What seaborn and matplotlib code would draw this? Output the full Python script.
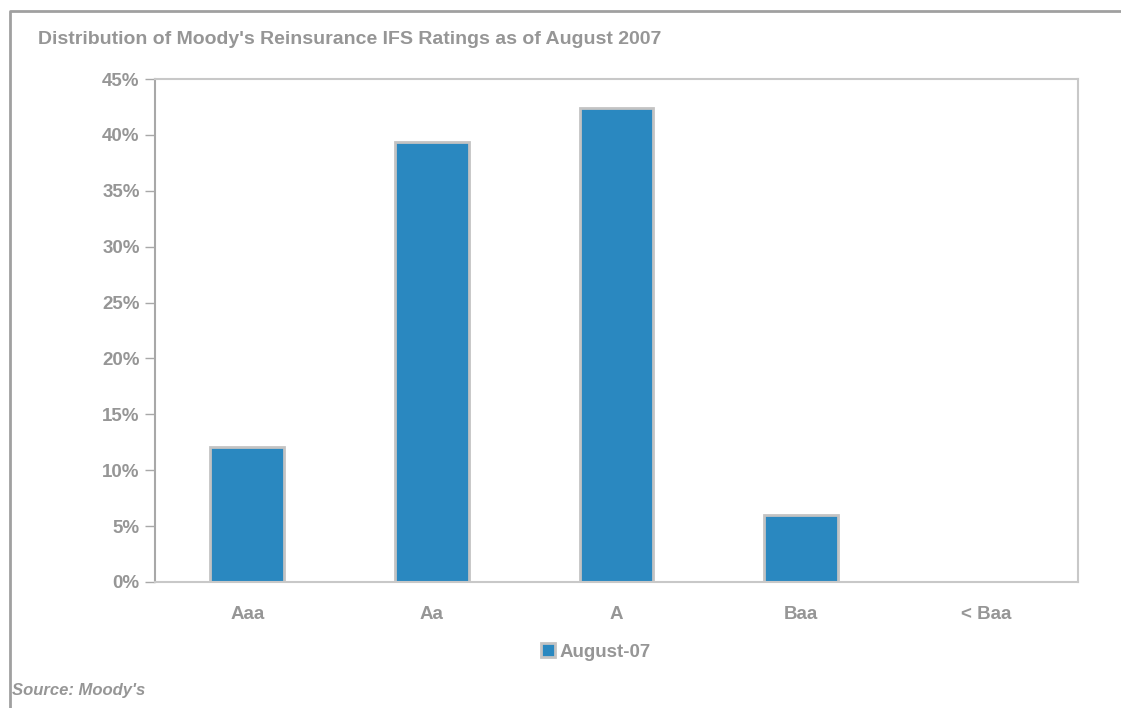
import pandas as pd
import numpy as np
import matplotlib.pyplot as plt
import seaborn as sns
from matplotlib.lines import Line2D
from matplotlib.patches import Patch
from matplotlib.ticker import FuncFormatter, FixedLocator

sns.set_style("white")
plt.rcParams['font.family'] = ['Liberation Sans', 'DejaVu Sans']

# Data
ratings = ['Aaa', 'Aa', 'A', 'Baa', '< Baa']
share = [12.1, 39.4, 42.4, 6.0, 0.0]
series_name = 'August-07'

df = pd.DataFrame({'rating': ratings, 'share': share})

txt = '#969696'
bar_col = '#2a88c0'
edge_col = '#c3c3c3'

fig = plt.figure(figsize=(11.21, 7.08), dpi=100)
ax = fig.add_axes([155/1121, 126/708, 923/1121, 503/708])

sns.barplot(data=df, x='rating', y='share', color=bar_col, width=0.4,
            edgecolor=edge_col, linewidth=2, saturation=1, ax=ax)

ax.set_ylim(0, 45)
ax.set_xlim(-0.5, 4.5)
ax.set_yticks(np.arange(0, 46, 5))
ax.yaxis.set_major_formatter(FuncFormatter(lambda v, p: f'{v:.0f}%'))
ax.set_xlabel('')
ax.set_ylabel('')

# tick marks at category boundaries, labels at centres
ax.xaxis.set_minor_locator(FixedLocator(np.arange(-0.5, 4.6, 1)))
ax.tick_params(axis='x', which='major', length=0, pad=17, labelsize=13.5,
               labelcolor=txt)
ax.tick_params(axis='x', which='minor', length=5, color='#c8c8c8', width=1)
ax.tick_params(axis='y', length=7, color='#a8a8a8', width=1, pad=4,
               labelsize=13.5, labelcolor=txt, left=True)
for lab in ax.get_xticklabels() + ax.get_yticklabels():
    lab.set_fontweight('bold')

for side, sp in ax.spines.items():
    sp.set_visible(True)
    sp.set_color('#c8c8c8')
    sp.set_linewidth(1.5)
ax.spines['left'].set_color('#a8a8a8')

# title, legend and source
fig.text(38/1121, 1 - 39/708, "Distribution of Moody's Reinsurance IFS Ratings as of August 2007",
         fontsize=14, fontweight='bold', color=txt, va='center', ha='left')

handle = Patch(facecolor=bar_col, edgecolor=edge_col, linewidth=2)
fig.legend([handle], [series_name], loc='center', bbox_to_anchor=(596/1121, 1 - 652/708),
           frameon=False, handlelength=0.75, handleheight=0.75, handletextpad=0.25,
           prop={'weight': 'bold', 'size': 13.5}, labelcolor=txt)

fig.text(12/1121, 1 - 690/708, "Source: Moody's", fontsize=12, fontweight='bold',
         style='italic', color=txt, va='center', ha='left')

# outer frame (left and top only)
fig.add_artist(Line2D([10/1121, 10/1121, 1], [0, 1 - 11/708, 1 - 11/708],
                      transform=fig.transFigure, color='#a0a0a0', linewidth=2))

fig.savefig('out.png', dpi=100)
